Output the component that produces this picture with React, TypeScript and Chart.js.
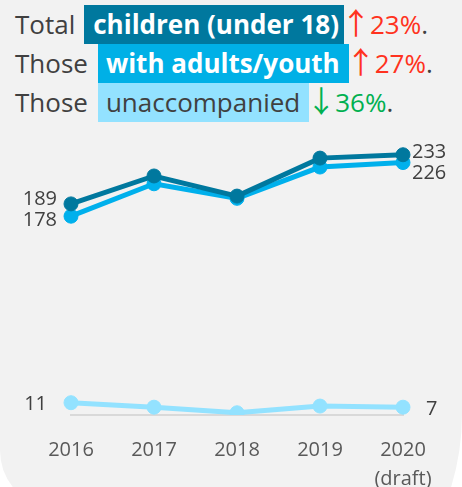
import React, { useEffect, useRef } from "react";
import { Chart, registerables } from "chart.js";

Chart.register(...registerables);

const years: (string | string[])[] = ["2016", "2017", "2018", "2019", ["2020", "(draft)"]];
const totalChildren = [189, 214, 196, 230, 233];
const withAdults = [178, 207, 194, 222, 226];
const unaccompanied = [11, 7, 2, 8, 7];

const C_TOTAL = "#00789E";
const C_ADULTS = "#00B0EC";
const C_UNACC = "#93E2FF";
const TEXT = "#404040";
const FONT = "'Open Sans', sans-serif";
const ARROW_FONT = "'Noto Sans CJK JP', 'DejaVu Sans', sans-serif";

// label offsets [firstDx, firstDy, lastDx, lastDy]
const labelOffsets = [
  [-14, -5, 9, -2],
  [-14, 4, 9, 11],
  [-24, 2, 23, 2],
];

const endLabels = {
  id: "endLabels",
  afterDatasetsDraw(chart: any) {
    const ctx = chart.ctx;
    ctx.save();
    ctx.font = "20px " + FONT;
    ctx.fillStyle = TEXT;
    ctx.textBaseline = "middle";
    chart.data.datasets.forEach((ds: any, i: number) => {
      const meta = chart.getDatasetMeta(i);
      const pts = meta.data;
      const first = pts[0];
      const last = pts[pts.length - 1];
      const off = labelOffsets[i];
      ctx.textAlign = "right";
      ctx.fillText(String(ds.data[0]), first.x + off[0], first.y + off[1]);
      ctx.textAlign = "left";
      ctx.fillText(String(ds.data[ds.data.length - 1]), last.x + off[2], last.y + off[3]);
    });
    ctx.restore();
  },
};

function ChartCanvas() {
  const ref = useRef<HTMLCanvasElement>(null);
  useEffect(() => {
    if (!ref.current) return;
    const mk = (label: string, data: number[], color: string) => ({
      label,
      data,
      borderColor: color,
      backgroundColor: color,
      pointBackgroundColor: color,
      pointBorderColor: color,
      borderWidth: 5,
      pointRadius: 7,
      pointBorderWidth: 1,
      tension: 0,
    });
    const chart = new Chart(ref.current, {
      type: "line",
      data: {
        labels: years as any,
        datasets: [
          mk("Total children (under 18)", totalChildren, C_TOTAL),
          mk("With adults/youth", withAdults, C_ADULTS),
          mk("Unaccompanied", unaccompanied, C_UNACC),
        ],
      },
      options: {
        animation: false,
        responsive: false,
        devicePixelRatio: 1,
        layout: { padding: { left: 71, right: 59, top: 0, bottom: 0 } },
        plugins: { legend: { display: false }, tooltip: { enabled: false } },
        scales: {
          x: {
            type: "category",
            offset: false,
            grid: { display: false, drawTicks: false },
            border: { display: true, color: "#D9D9D9", width: 2 },
            ticks: {
              color: "#595959",
              font: { family: FONT, size: 20, lineHeight: 1.45 },
              padding: 21,
              maxRotation: 0,
              autoSkip: false,
            },
            afterFit: (scale: any) => {
              scale.height = 72;
            },
          },
          y: { display: false, min: 0, max: 248 },
        },
      } as any,
      plugins: [endLabels],
    });
    return () => chart.destroy();
  }, []);
  return (
    <canvas
      ref={ref}
      width={462}
      height={357}
      style={{ position: "absolute", left: 0, top: 130, width: 462, height: 357 }}
    />
  );
}

const lineStyle: React.CSSProperties = {
  position: "absolute",
  left: 15,
  height: 39,
  lineHeight: "39px",
  fontSize: 26,
  whiteSpace: "nowrap",
  color: TEXT,
};

const boxStyle = (bg: string, color: string, bold: boolean): React.CSSProperties => ({
  display: "inline-block",
  background: bg,
  color,
  fontWeight: bold ? 700 : 400,
  height: 39,
  lineHeight: "39px",
  verticalAlign: "top",
});

const arrowStyle = (color: string): React.CSSProperties => ({
  color,
  fontFamily: ARROW_FONT,
  fontWeight: 400,
  fontSize: 30,
  lineHeight: "10px",
  marginLeft: -3,
  marginRight: -1,
});

export default function App() {
  return (
    <div
      style={{
        position: "fixed",
        left: 0,
        top: 0,
        width: 462,
        height: 487,
        background: "#FFFFFF",
        overflow: "hidden",
        fontFamily: FONT,
      }}
    >
      <svg width={462} height={487} style={{ position: "absolute", left: 0, top: 0 }}>
        <path
          d="M0 0 L462 0 L462 414 A250 250 0 0 1 450.2 490 L15.3 490 A60 60 0 0 1 0 450 Z"
          fill="#F2F2F2"
        />
      </svg>
      <div style={{ ...lineStyle, top: 5 }}>
        Total
        <span style={{ ...boxStyle(C_TOTAL, "#FFFFFF", true), marginLeft: 9, padding: "0 5px 0 9px" }}>
          children (under 18)
        </span>
        <span style={arrowStyle("#FF3220")}>↑</span>
        <span style={{ color: "#FF3220" }}>23%</span>.
      </div>
      <div style={{ ...lineStyle, top: 44 }}>
        Those
        <span style={{ ...boxStyle("#00B0E6", "#FFFFFF", true), marginLeft: 10, padding: "0 9px 0 8px" }}>
          with adults/youth
        </span>
        <span style={arrowStyle("#FF3220")}>↑</span>
        <span style={{ color: "#FF3220" }}>27%</span>.
      </div>
      <div style={{ ...lineStyle, top: 83 }}>
        Those
        <span style={{ ...boxStyle(C_UNACC, TEXT, false), marginLeft: 10, padding: "0 9px 0 8px" }}>
          unaccompanied
        </span>
        <span style={arrowStyle("#00B050")}>↓</span>
        <span style={{ color: "#00B050" }}>36%</span>.
      </div>
      <ChartCanvas />
    </div>
  );
}
